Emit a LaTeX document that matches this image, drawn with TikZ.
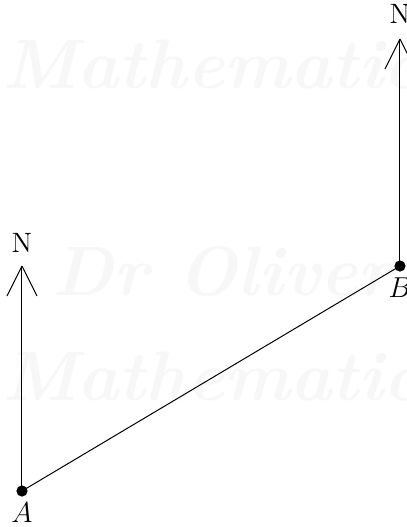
\documentclass[tikz,border=0pt]{standalone}
\begin{document}
\begin{tikzpicture}[x=0.5pt,y=-0.5pt,line width=0.5pt,
  lbl/.style={font=\fontsize{14}{16}\selectfont,inner sep=0pt},
  wm/.style={font=\fontsize{35}{42}\selectfont\bfseries\itshape,text=black!3,inner sep=0pt,anchor=base west},
  pt/.style={circle,fill=black,inner sep=0pt,minimum size=5.6pt}]
\clip (0,0) rectangle (407,527);
% watermark
\node[wm] (w1) at (2,88) {Mathematics};
\node[wm] (w2) at (52,295) {Dr Oliver};
\node[wm] (w3) at (2,400) {Mathematics};
% points
\node[pt] (A) at (22,491) {};
\node[pt] (B) at (400,266) {};
\node[lbl] (Al) at (22,513) {$A$};
\node[lbl] (Bl) at (400,288) {$B$};
% north arrows
\coordinate (TA) at (22,266);
\coordinate (TB) at (400,39);
\node[lbl] (NA) at (22,243) {N};
\node[lbl] (NB) at (400,14) {N};
\draw (A.center) -- (TA);
\draw (TA) -- +(-15,30) (TA) -- +(15,30);
\draw (B.center) -- (TB);
\draw (TB) -- +(-15,30) (TB) -- +(15,30);
% bearing line
\draw (A.center) -- (B.center);
\end{tikzpicture}
\end{document}
